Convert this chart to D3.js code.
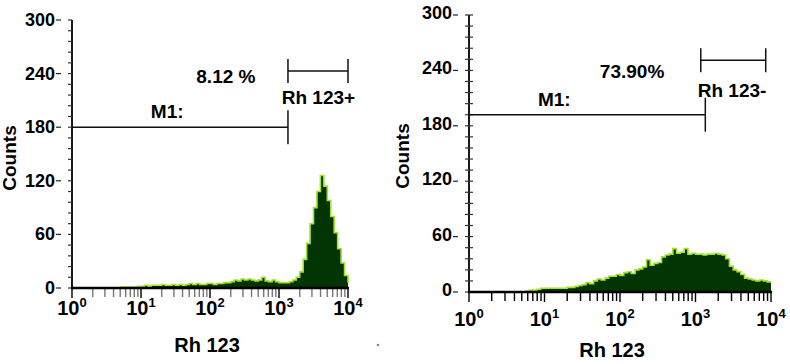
<!DOCTYPE html>
<html>
<head>
<meta charset="utf-8">
<title>Rh 123 histograms</title>
<script src="https://cdn.jsdelivr.net/npm/d3@7"></script>
<style>
  body { margin: 0; background: #fff; }
  svg { display: block; font-family: "Liberation Sans", Arial, sans-serif; font-weight: bold; }
</style>
</head>
<body>
<svg id="chart" width="790" height="364"></svg>
<script>
// histogram channels: first bin (log10 of intensity) and bin width in decades
var binStep = 0.05;
var leftStart = 0.70;
var rightStart = 0.75;

// counts per channel
var leftCounts = [1, 1, 1, 1, 1, 2, 2, 3, 2, 3, 3, 3, 4, 3, 3, 4, 3, 4, 3, 4,
                  5, 4, 5, 4, 4, 5, 5, 4, 5, 5, 6, 6, 7, 9, 8, 10, 9, 10, 9, 8,
                  9, 12, 8, 7, 9, 7, 6, 6, 6, 7, 9, 12, 18, 32, 50, 72, 90, 108, 126, 114,
                  98, 80, 62, 44, 28, 14, 6];
var rightCounts = [1, 2, 2, 3, 4, 4, 4, 4, 4, 4, 4, 5, 5, 6, 7, 8, 10, 9, 12, 14,
                   13, 15, 17, 17, 19, 18, 21, 22, 20, 24, 25, 27, 35, 29, 31, 32, 38, 40, 41, 47,
                   42, 43, 47, 41, 42, 41, 41, 40, 41, 41, 42, 41, 40, 36, 28, 24, 22, 19, 15, 14,
                   13, 12, 13, 12, 11, 11];

var yTicks = [0, 60, 120, 180, 240, 300];
var xDecades = [0, 1, 2, 3, 4];

// gates: [from, to] in log10 units, and the count level they are drawn at
var leftM1 = [0, 3.13], leftM1Level = 180;
var leftPos = [3.13, 4], leftPosLevel = 243;
var rightM1 = [0, 3.13], rightM1Level = 192;
var rightNeg = [3.07, 3.93], rightNegLevel = 251;

var svg = d3.select("#chart");

// one panel per histogram
function drawPanel(p) {
    var x = d3.scaleLog().domain([1, 10000]).range([p.x0, p.x1]);
    var y = d3.scaleLinear().domain([0, 300]).range([p.y0, p.y1]);
    var g = svg.append("g");

    // bins -> points for a step outline
    var pts = p.counts.map(function(c, i) {
        return { v: Math.pow(10, p.start + i * binStep), c: c };
    });
    pts.push({ v: Math.pow(10, Math.min(4, p.start + pts.length * binStep)), c: p.counts[p.counts.length - 1] });

    var area = d3.area()
        .x(function(d) { return x(d.v); })
        .y0(y(0))
        .y1(function(d) { return y(d.c); })
        .curve(d3.curveStepAfter);
    var line = d3.line()
        .x(function(d) { return x(d.v); })
        .y(function(d) { return y(d.c); })
        .curve(d3.curveStepAfter);

    g.append("path").attr("d", area(pts)).attr("fill", "#023502");
    g.append("path").attr("d", line(pts))
        .attr("fill", "none").attr("stroke", "#a4e22a").attr("stroke-width", 1.6);

    // y axis
    g.append("line").attr("x1", p.x0).attr("x2", p.x0).attr("y1", y(0)).attr("y2", y(300))
        .attr("stroke", "#000").attr("stroke-width", 1.8);
    d3.range(0, 301, 12).forEach(function(t) {
        g.append("line")
            .attr("x1", p.x0 - 4).attr("x2", p.x0 + (p.cross ? 4 : 0))
            .attr("y1", y(t)).attr("y2", y(t))
            .attr("stroke", "#333").attr("stroke-width", 1.2);
    });
    yTicks.forEach(function(t) {
        g.append("line")
            .attr("x1", p.x0 - 16).attr("x2", p.x0 - 11)
            .attr("y1", y(t)).attr("y2", y(t))
            .attr("stroke", "#222").attr("stroke-width", 1.2);
        g.append("text")
            .attr("x", p.x0 - 17).attr("y", y(t) - p.labelLift)
            .attr("text-anchor", "end").attr("dominant-baseline", "central")
            .attr("font-size", 18).text(t);
    });

    // x axis with log ticks
    xDecades.forEach(function(d) {
        var top = d < 4 ? 9 : 1;
        for (var k = 1; k <= top; k++) {
            var v = k * Math.pow(10, d);
            g.append("line")
                .attr("x1", x(v)).attr("x2", x(v))
                .attr("y1", y(0)).attr("y2", y(0) + (k == 1 ? 10 : 9))
                .attr("stroke", k == 1 ? "#000" : p.minorColor).attr("stroke-width", 1.4);
        }
        var lab = g.append("text")
            .attr("x", x(Math.pow(10, d))).attr("y", p.tickBase)
            .attr("text-anchor", "middle").attr("font-size", 20);
        lab.append("tspan").text("10");
        lab.append("tspan").attr("dy", -8).attr("font-size", 13).text(d);
    });
    g.append("line").attr("x1", p.x0 - 1).attr("x2", p.x1 + 1).attr("y1", y(0)).attr("y2", y(0))
        .attr("stroke", "#000").attr("stroke-width", 2.6);

    // axis titles
    g.append("text")
        .attr("x", (p.x0 + p.x1) / 2 + p.titleShift).attr("y", p.titleBase)
        .attr("text-anchor", "middle").attr("font-size", 20).text("Rh 123");
    g.append("text")
        .attr("transform", "translate(" + p.countsX + "," + p.countsY + ") rotate(-90)")
        .attr("text-anchor", "middle").attr("font-size", 19).text("Counts");

    // gates
    function gate(range, level, half, bothEnds) {
        g.append("line")
            .attr("x1", x(Math.pow(10, range[0]))).attr("x2", x(Math.pow(10, range[1])))
            .attr("y1", y(level)).attr("y2", y(level))
            .attr("stroke", "#111").attr("stroke-width", 1.5);
        var ends = bothEnds ? range : [range[1]];
        ends.forEach(function(e) {
            g.append("line")
                .attr("x1", x(Math.pow(10, e))).attr("x2", x(Math.pow(10, e)))
                .attr("y1", y(level) - half).attr("y2", y(level) + half)
                .attr("stroke", "#111").attr("stroke-width", 1.5);
        });
    }
    gate(p.m1, p.m1Level, 17, false);
    gate(p.gate, p.gateLevel, 12, true);

    p.notes.forEach(function(n) {
        g.append("text")
            .attr("x", x(Math.pow(10, n.at))).attr("y", y(n.level))
            .attr("text-anchor", n.anchor).attr("font-size", 19).text(n.text);
    });
}

drawPanel({
    counts: leftCounts, start: leftStart,
    x0: 72, x1: 348, y0: 288, y1: 20,
    cross: false, minorColor: "#777", labelLift: 0,
    tickBase: 315, titleBase: 352, titleShift: -3,
    countsX: 16, countsY: 158,
    m1: leftM1, m1Level: leftM1Level, gate: leftPos, gateLevel: leftPosLevel,
    notes: [
        { text: "M1:", at: 1.38, level: 190, anchor: "middle" },
        { text: "8.12 %", at: 2.23, level: 229, anchor: "middle" },
        { text: "Rh 123+", at: 3.04, level: 206, anchor: "start" }
    ]
});

drawPanel({
    counts: rightCounts, start: rightStart,
    x0: 469, x1: 771, y0: 292, y1: 15,
    cross: true, minorColor: "#000", labelLift: 2,
    tickBase: 326, titleBase: 357, titleShift: -8,
    countsX: 409, countsY: 156,
    m1: rightM1, m1Level: rightM1Level, gate: rightNeg, gateLevel: rightNegLevel,
    notes: [
        { text: "M1:", at: 1.13, level: 201, anchor: "middle" },
        { text: "73.90%", at: 2.16, level: 232, anchor: "middle" },
        { text: "Rh 123-", at: 3.03, level: 211, anchor: "start" }
    ]
});

// small stray dot between the panels
svg.append("circle").attr("cx", 378).attr("cy", 345).attr("r", 1.3).attr("fill", "#888");
</script>
</body>
</html>
